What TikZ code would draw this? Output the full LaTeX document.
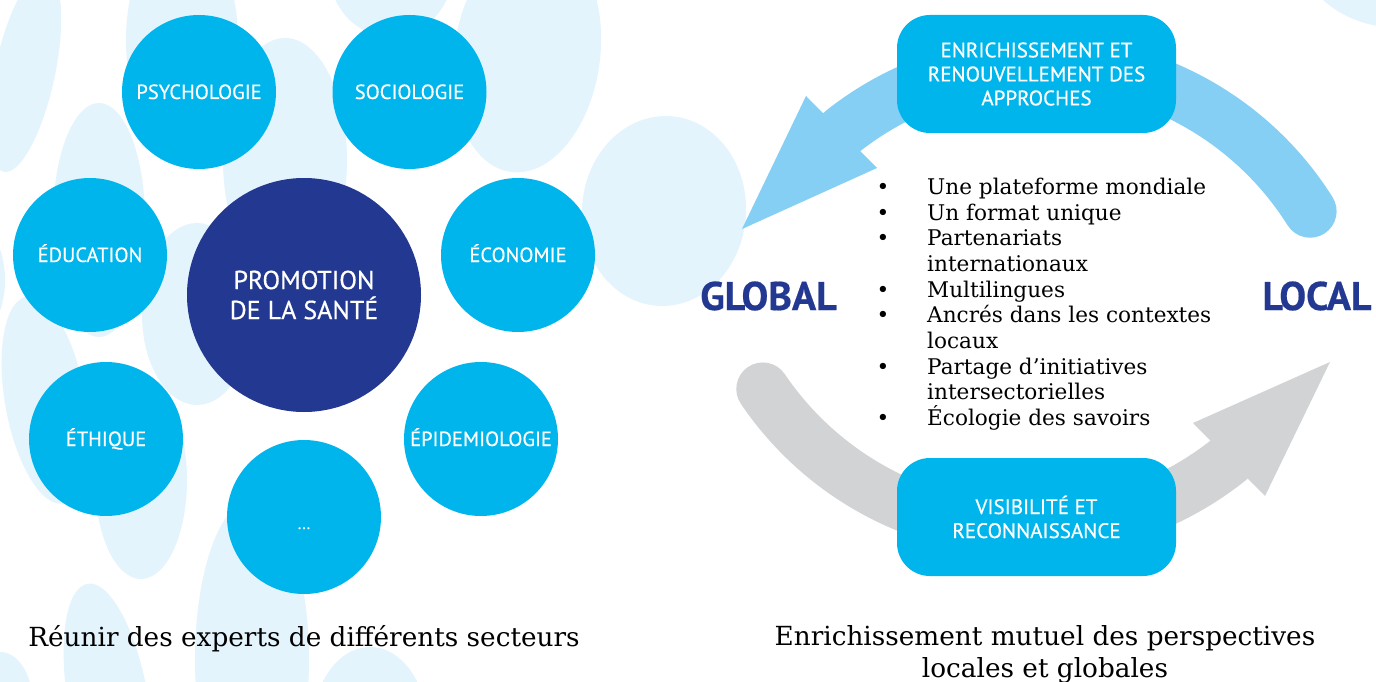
\documentclass[tikz,border=0pt]{standalone}
\usepackage{fontspec}
\usetikzlibrary{calc}
\newfontfamily\dinfont{PT Sans}[FakeBold=0.5]
\newfontfamily\serifont{DejaVu Serif}
\definecolor{cyanc}{HTML}{00B5EC}
\definecolor{darkc}{HTML}{233891}
\definecolor{blobc}{HTML}{E4F4FC}
\definecolor{arrowblue}{HTML}{85CFF4}
\definecolor{arrowgray}{HTML}{D1D3D4}
\begin{document}
\begin{tikzpicture}[x=1pt,y=-1pt,
  blob/.style={fill=blobc},
  bubble/.style={circle,fill=cyanc,minimum size=154pt,inner sep=0pt,text=white,
    text height=14pt,text depth=0pt,font=\dinfont\fontsize{20.5}{24}\selectfont},
  hub/.style={circle,fill=darkc,minimum size=234pt,inner sep=0pt,text=white,align=center,
    font=\dinfont\fontsize{26}{30}\selectfont},
  box/.style={rectangle,rounded corners=33pt,fill=cyanc,minimum width=279pt,minimum height=118pt,
    inner sep=0pt,text=white,align=center,font=\dinfont\fontsize{21}{24}\selectfont},
  pole/.style={text=darkc,inner sep=0pt,font=\dinfont\bfseries\fontsize{40}{40}\selectfont},
  item/.style={anchor=base west,inner sep=0pt,font=\serifont\fontsize{21.6}{25.67}\selectfont},
  bul/.style={anchor=base,inner sep=0pt,font=\serifont\fontsize{21.6}{25.67}\selectfont},
  caption/.style={anchor=base,inner sep=0pt,font=\serifont\fontsize{26.3}{32}\selectfont},
  shaft/.style={line width=53pt,line cap=round}
]
\useasboundingbox (0,0) rectangle (1376,682);
\fill[white] (0,0) rectangle (1376,682);

% background blobs
\fill[blob, rotate around={-12:(25,72)}] (25,72) ellipse [x radius=30, y radius=102];
\fill[blob] (182,40) ellipse [x radius=56, y radius=110];
\fill[blob] (285,160) ellipse [x radius=62, y radius=122];
\fill[blob] (99,220) ellipse [x radius=46, y radius=117];
\fill[blob] (197,314) ellipse [x radius=55, y radius=91];
\fill[blob] (-30,280) ellipse [x radius=35, y radius=60];
\fill[blob, rotate around={10:(45,400)}] (45,400) ellipse [x radius=40, y radius=105];
\fill[blob] (141,480) ellipse [x radius=46, y radius=99];
\fill[blob] (0,700) ellipse [x radius=32, y radius=48];
\fill[blob, rotate around={10:(108,700)}] (108,700) ellipse [x radius=40, y radius=118];
\fill[blob] (252,660) ellipse [x radius=57, y radius=160];
\fill[blob] (370,730) ellipse [x radius=58, y radius=83];
\fill[blob, rotate around={-8:(527,55)}] (527,55) ellipse [x radius=73, y radius=118];
\fill[blob] (391,-30) ellipse [x radius=62, y radius=67];
\fill[blob, rotate around={-4:(664,211)}] (664,211) ellipse [x radius=82, y radius=95];
\fill[blob] (1400,-50) ellipse [x radius=100, y radius=78];

% left panel
\node[bubble] (psy) at (199,92) {PSYCHOLOGIE};
\node[bubble] (soc) at (409.5,92) {SOCIOLOGIE};
\node[bubble] (edu) at (90,255) {ÉDUCATION};
\node[bubble] (eco) at (518,255) {ÉCONOMIE};
\node[bubble] (eth) at (106,439) {ÉTHIQUE};
\node[bubble] (epi) at (481,439) {\makebox[0pt]{ÉPIDEMIOLOGIE}};
\node[bubble] (etc) at (304,517) {\raisebox{-5pt}{\fontsize{16}{16}\selectfont ...}};
\node[hub] (promo) at (304,295) {PROMOTION\\DE LA SANTÉ};
\node[caption] (cap1) at (304,646) {Réunir des experts de différents secteurs};

% right panel arrows
\coordinate (blueEnd) at ($(1040.5,381)+(-32.2:318.6)$);
\draw[shaft, arrowblue] (blueEnd) arc[start angle=-32.2, end angle=-128.6, radius=318.6] coordinate (blueBase);
\coordinate (blueTip) at (742,229);
\fill[arrowblue] (806,96) -- (blueTip) -- (877,168) -- cycle;

\coordinate (grayEnd) at ($(1028.6,209)+(145.9:321)$);
\draw[shaft, arrowgray] (grayEnd) arc[start angle=145.9, end angle=51.3, radius=321] coordinate (grayBase);
\coordinate (grayTip) at (1330,362);
\fill[arrowgray] (1193,423) -- (grayTip) -- (1265,496) -- cycle;

\node[box] (top) at (1036.5,74) {ENRICHISSEMENT ET\\RENOUVELLEMENT DES\\APPROCHES};
\node[box] (bot) at (1036.5,517) {VISIBILITÉ ET\\RECONNAISSANCE};

\node[pole] (global) at (768.5,296) {GLOBAL};
\node[pole] (local) at (1317,296) {LOCAL};

% bullet list
\node[bul] (b1) at (883,194.3) {\textbullet};
\node[item] (l1) at (927,194.3) {Une plateforme mondiale};
\node[bul] (b2) at (883,220.0) {\textbullet};
\node[item] (l2) at (927,220.0) {Un format unique};
\node[bul] (b3) at (883,245.6) {\textbullet};
\node[item] (l3) at (927,245.6) {Partenariats};
\node[item] (l4) at (927,271.3) {internationaux};
\node[bul] (b5) at (883,297.0) {\textbullet};
\node[item] (l5) at (927,297.0) {Multilingues};
\node[bul] (b6) at (883,322.7) {\textbullet};
\node[item] (l6) at (927,322.7) {Ancrés dans les contextes};
\node[item] (l7) at (927,348.3) {locaux};
\node[bul] (b8) at (883,374.0) {\textbullet};
\node[item] (l8) at (927,374.0) {Partage d’initiatives};
\node[item] (l9) at (927,399.7) {intersectorielles};
\node[bul] (b10) at (883,425.3) {\textbullet};
\node[item] (l10) at (927,425.3) {Écologie des savoirs};

\node[caption] (cap2a) at (1045,645) {Enrichissement mutuel des perspectives};
\node[caption] (cap2b) at (1045,677) {locales et globales};
\end{tikzpicture}
\end{document}
